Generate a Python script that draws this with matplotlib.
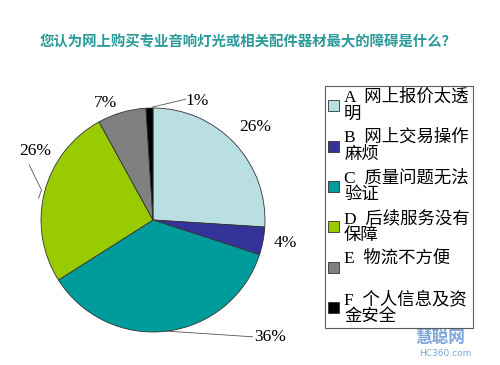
import matplotlib
matplotlib.use("Agg")
import matplotlib.pyplot as plt
import numpy as np

title = "您认为网上购买专业音响灯光或相关配件器材最大的障碍是什么？"
categories = ["A  网上报价太透\n明", "B  网上交易操作\n麻烦", "C  质量问题无法\n验证",
              "D  后续服务没有\n保障", "E  物流不方便\n ", "F  个人信息及资\n金安全"]
values = [26, 4, 36, 26, 7, 1]
pct_labels = ["26%", "4%", "36%", "26%", "7%", "1%"]
colors = ["#b9dfe2", "#333399", "#009b9b", "#99cc00", "#808080", "#000000"]

W, H = 500, 365
fig = plt.figure(figsize=(W / 100, H / 100), dpi=100)
ax = fig.add_axes([0, 0, 1, 1])
ax.set_xlim(0, W)
ax.set_ylim(0, H)
ax.set_aspect("equal")
ax.axis("off")

serif = ["Liberation Serif", "Noto Sans CJK SC"]
cx, cy, R = 153, H - 220, 112

wedges, _ = ax.pie(values, colors=colors, startangle=90, counterclock=False,
                   center=(cx, cy), radius=R,
                   wedgeprops=dict(edgecolor="#333333", linewidth=0.6))
ax.set_xlim(0, W)
ax.set_ylim(0, H)

# label placement: (radius factor, angle offset deg, leader line?)
place = [(1.23, -1, False), (1.20, 1, False), (1.48, 38, True),
         (1.22, -16, True), (1.13, 6, False), (1.13, -22, True)]
for w, lab, (rf, doff, lead) in zip(wedges, pct_labels, place):
    mid = np.deg2rad((w.theta1 + w.theta2) / 2)
    ang = mid + np.deg2rad(doff)
    tx, ty = cx + rf * R * np.cos(ang), cy + rf * R * np.sin(ang)
    if lead:
        ex, ey = cx + R * np.cos(mid), cy + R * np.sin(mid)
        if lab == "36%":
            ax.plot([ex, tx - 18], [ey, ty], color="#555555", lw=0.6)
        elif lab == "1%":
            ax.plot([ex + 3, tx - 11], [ey + 1, ty + 2], color="#555555", lw=0.6)
        else:
            ax.plot([ex - 6, ex - 3, tx - 6], [ey - 6, ey + 2, ty - 14], color="#555555", lw=0.6)
    ax.text(tx, ty, lab, ha="center", va="center", fontsize=12.5, family=serif, color="black")

fig.text(248 / W, 1 - 42 / H, title, ha="center", va="center", fontsize=10.4,
         fontweight="bold", color="#2a9a9a", family=["Noto Sans CJK SC", "DejaVu Sans"])

leg = fig.legend(wedges, categories, loc="upper left",
                 bbox_to_anchor=(325 / W, 1 - 86 / H), borderaxespad=0,
                 prop=dict(family=serif, size=12.5), frameon=True, fancybox=False,
                 edgecolor="#333333", handlelength=0.6, handleheight=0.6,
                 handletextpad=0.3, labelspacing=0.42, borderpad=0.2)
leg.get_frame().set_linewidth(0.8)
for t in leg.get_texts():
    t.set_linespacing(1.05)

fig.text(440 / W, 1 - 338 / H, "慧聪网", ha="center", va="center", fontsize=12,
         fontweight="bold", style="italic", color="#5b8fd0", alpha=0.8,
         family=["Noto Sans CJK SC", "DejaVu Sans"])
fig.text(445 / W, 1 - 353 / H, "HC360.com", ha="center", va="center", fontsize=6.5,
         color="#5b8fd0", alpha=0.8, family="DejaVu Sans")

fig.savefig("out.png", dpi=100)
